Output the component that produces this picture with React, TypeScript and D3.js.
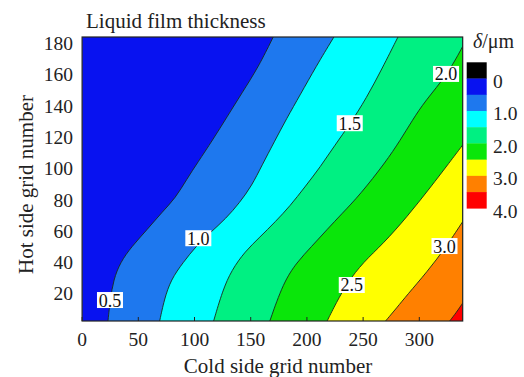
import React from 'react';
import * as d3 from 'd3';

const xDomain: [number, number] = [0, 338.6];
const yDomain: [number, number] = [2.5, 184];
const xTicks = [0, 50, 100, 150, 200, 250, 300];
const yTicks = [20, 40, 60, 80, 100, 120, 140, 160, 180];

// contour levels (µm) and the lines: [cold grid, hot grid]
const levels = [0.5, 1.0, 1.5, 2.0, 2.5, 3.0, 3.5];
const line05 = [[23, 2.5], [25, 16], [28, 29], [34, 40], [44, 50], [58, 61], [71, 72], [83, 81], [93, 93], [103, 104], [116, 118], [129, 133], [142, 148], [157, 165], [170, 184]];
const line10 = [[69, 2.5], [73, 16], [79, 29], [90, 40], [101, 50], [114, 59], [128, 68], [140, 78], [151, 89], [160, 102], [171, 117], [182, 132], [194, 147], [208, 165], [224, 184]];
const line15 = [[117, 2.5], [125, 22], [133, 35], [145, 47], [158, 56], [172, 66], [185, 76], [198, 88], [212, 101], [225, 115], [238, 128], [253, 145], [267, 164], [281, 184]];
const line20 = [[167, 2.5], [179, 27], [191, 40], [204, 50], [218, 61], [231, 71], [247, 83], [270, 104], [283, 118], [294, 131], [305, 143], [325, 160], [338.6, 178]];
const line25 = [[218, 2.5], [226, 14], [236, 27], [250, 40], [268, 52], [289, 69], [310, 88], [327, 104], [338.6, 115]];
const line30 = [[270, 2.5], [280, 11], [289, 19], [307, 34], [323, 49], [338.6, 66]];
const line35 = [[327, 2.5], [333, 8], [338.6, 14]];
const contourLines = [line05, line10, line15, line20, line25, line30, line35];

const bandColors = ['#0812f0', '#1e78ee', '#00ffff', '#00f082', '#0ae60a', '#ffff00', '#ff8000', '#ff0000'];
const legendColors = ['#000000', ...bandColors];
const legendStops = [-0.5, 0, 0.5, 1.0, 1.5, 2.0, 2.5, 3.0, 3.5, 4.0];
const legendTicks = [0, 1.0, 2.0, 3.0, 4.0];

const contourLabels = [
  { text: '0.5', x: 24.8, y: 15.9 },
  { text: '1.0', x: 103.4, y: 55.4 },
  { text: '1.5', x: 238.1, y: 128.9 },
  { text: '2.0', x: 323.8, y: 160.4 },
  { text: '2.5', x: 239.9, y: 25.5 },
  { text: '3.0', x: 322.4, y: 50.4 },
];

const FONT = "'Liberation Serif', 'Times New Roman', serif";

export default function App() {
  const W = 524, H = 377;
  const left = 82.1, right = 462.7, top = 37, bottom = 321;
  const x = d3.scaleLinear().domain(xDomain).range([left, right]);
  const y = d3.scaleLinear().domain(yDomain).range([bottom, top]);
  const lg = d3.scaleLinear().domain([-0.5, 4.0]).range([62.3, 208.3]);
  const line = d3.line<number[]>().x(d => x(d[0])).y(d => y(d[1])).curve(d3.curveBasis);

  const regionPath = (pts: number[][]) => {
    const last = pts[pts.length - 1];
    let p = line(pts) as string;
    if (last[1] >= yDomain[1] - 0.01) p += `L${x(xDomain[1])},${y(yDomain[1])}`;
    p += `L${x(xDomain[1])},${y(yDomain[0])}Z`;
    return p;
  };

  const txt = { fontFamily: FONT };

  return (
    <svg width={W} height={H} style={{ position: 'absolute', left: 0, top: 0, background: '#fff', fontFamily: FONT }}>
      <defs>
        <clipPath id="plotclip">
          <rect x={left} y={top} width={right - left} height={bottom - top} />
        </clipPath>
      </defs>
      <g clipPath="url(#plotclip)">
        <rect x={left} y={top} width={right - left} height={bottom - top} fill={bandColors[0]} />
        {contourLines.map((pts, i) => (
          <path key={'f' + i} d={regionPath(pts)} fill={bandColors[i + 1]} stroke="none" />
        ))}
        {contourLines.map((pts, i) => (
          <path key={'l' + i} d={line(pts) as string} fill="none" stroke="#1a2a1a" strokeWidth={0.9} />
        ))}
        {contourLabels.map((l, i) => (
          <g key={'cl' + i} transform={`translate(${x(l.x)},${y(l.y)})`}>
            <rect x={-13} y={-8} width={26} height={16} fill="#fff" />
            <text style={txt} textAnchor="middle" dy="0.36em" fontSize={18} fill="#111">{l.text}</text>
          </g>
        ))}
      </g>
      {xTicks.map(t => (
        <line key={'xt' + t} x1={x(t)} x2={x(t)} y1={bottom} y2={bottom - 4} stroke="#222" strokeWidth={1} />
      ))}
      <rect x={left} y={top} width={right - left} height={bottom - top} fill="none" stroke="#222" strokeWidth={1.2} />
      {xTicks.map(t => (
        <text style={txt} key={'xl' + t} x={x(t)} y={346} textAnchor="middle" fontSize={19.5} fill="#222">{t}</text>
      ))}
      {yTicks.map(t => (
        <text style={txt} key={'yl' + t} x={73} y={y(t)} dy="0.35em" textAnchor="end" fontSize={19.5} fill="#222">{t}</text>
      ))}
      <text style={txt} x={86} y={28} fontSize={21} fill="#222">Liquid film thickness</text>
      <text style={txt} x={278} y={373} textAnchor="middle" fontSize={21} fill="#222">Cold side grid number</text>
      <text style={txt} transform={`translate(33,184.5) rotate(-90)`} textAnchor="middle" fontSize={21} fill="#222">Hot side grid number</text>
      <text style={txt} x={473} y={48} fontSize={20} fill="#222"><tspan fontStyle="italic">δ</tspan>/μm</text>
      {legendColors.map((c, i) => (
        <rect key={'lg' + i} x={466.7} y={lg(legendStops[i])} width={20} height={lg(legendStops[i + 1]) - lg(legendStops[i]) + 0.3} fill={c} />
      ))}
      {legendTicks.map(t => (
        <text style={txt} key={'lt' + t} x={493} y={lg(t) + 2.5} dy="0.35em" fontSize={19.5} fill="#222">{t === 0 ? '0' : t.toFixed(1)}</text>
      ))}
    </svg>
  );
}
